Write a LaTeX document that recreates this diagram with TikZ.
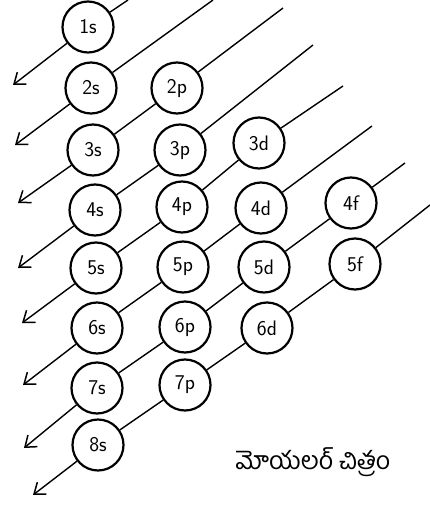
\documentclass[tikz,border=0pt]{standalone}
\usepackage{fontspec}
\newfontfamily\telugu[Script=Telugu]{Hind Guntur}
\usetikzlibrary{arrows.meta}
\begin{document}
\begin{tikzpicture}[x=1pt,y=-1pt,
  orb/.style={circle,draw,line width=2.2pt,minimum size=51pt,inner sep=0pt,font=\sffamily\fontsize{21}{22}\selectfont},
  diag/.style={line width=1.4pt},
  arr/.style={diag,-{Straight Barb[length=10pt,width=15pt,line width=1.5pt]}}]
\useasboundingbox (0,0) rectangle (430,506);
% orbitals
\node[orb] (o1s) at (88,27) {1s};
\node[orb] (o2s) at (91,88) {2s};
\node[orb] (o3s) at (93,150) {3s};
\node[orb] (o4s) at (95,210) {4s};
\node[orb] (o5s) at (96,268) {5s};
\node[orb] (o6s) at (97,328) {6s};
\node[orb] (o7s) at (97,388) {7s};
\node[orb] (o8s) at (98,445) {8s};
\node[orb] (o2p) at (177,88) {2p};
\node[orb] (o3p) at (180,150) {3p};
\node[orb] (o4p) at (182,207) {4p};
\node[orb] (o5p) at (183,267) {5p};
\node[orb] (o6p) at (185,327) {6p};
\node[orb] (o7p) at (185,385) {7p};
\node[orb] (o3d) at (259,143) {3d};
\node[orb] (o4d) at (261,208) {4d};
\node[orb] (o5d) at (264,267) {5d};
\node[orb] (o6d) at (267,328) {6d};
\node[orb] (o4f) at (351,203) {4f};
\node[orb] (o5f) at (355,264) {5f};
% free ends
\coordinate (t1) at (128,0);
\coordinate (t2) at (213,0);
\coordinate (t3) at (283,8);
\coordinate (t4) at (313,45);
\coordinate (t5) at (343,86);
\coordinate (t6) at (372,126);
\coordinate (t7) at (405,163);
\coordinate (t8) at (430,205);
\coordinate (a1) at (13,85);
\coordinate (a2) at (15,145);
\coordinate (a3) at (18,203);
\coordinate (a4) at (18,268);
\coordinate (a5) at (22,323);
\coordinate (a6) at (23,385);
\coordinate (a7) at (24,448);
\coordinate (a8) at (33,495);
% diagonals
\draw[diag] (t1) -- (o1s); \draw[arr] (o1s) -- (a1);
\draw[diag] (t2) -- (o2s); \draw[arr] (o2s) -- (a2);
\draw[diag] (t3) -- (o2p); \draw[diag] (o2p) -- (o3s); \draw[arr] (o3s) -- (a3);
\draw[diag] (t4) -- (o3p); \draw[diag] (o3p) -- (o4s); \draw[arr] (o4s) -- (a4);
\draw[diag] (t5) -- (o3d); \draw[diag] (o3d) -- (o4p); \draw[diag] (o4p) -- (o5s); \draw[arr] (o5s) -- (a5);
\draw[diag] (t6) -- (o4d); \draw[diag] (o4d) -- (o5p); \draw[diag] (o5p) -- (o6s); \draw[arr] (o6s) -- (a6);
\draw[diag] (t7) -- (o4f); \draw[diag] (o4f) -- (o5d); \draw[diag] (o5d) -- (o6p); \draw[diag] (o6p) -- (o7s); \draw[arr] (o7s) -- (a7);
\draw[diag] (t8) -- (o5f); \draw[diag] (o5f) -- (o6d); \draw[diag] (o6d) -- (o7p); \draw[diag] (o7p) -- (o8s); \draw[arr] (o8s) -- (a8);
% caption
\node[font=\telugu\fontsize{25}{28}\selectfont] (cap) at (313,462) {మోయలర్ చిత్రం};
\end{tikzpicture}
\end{document}
